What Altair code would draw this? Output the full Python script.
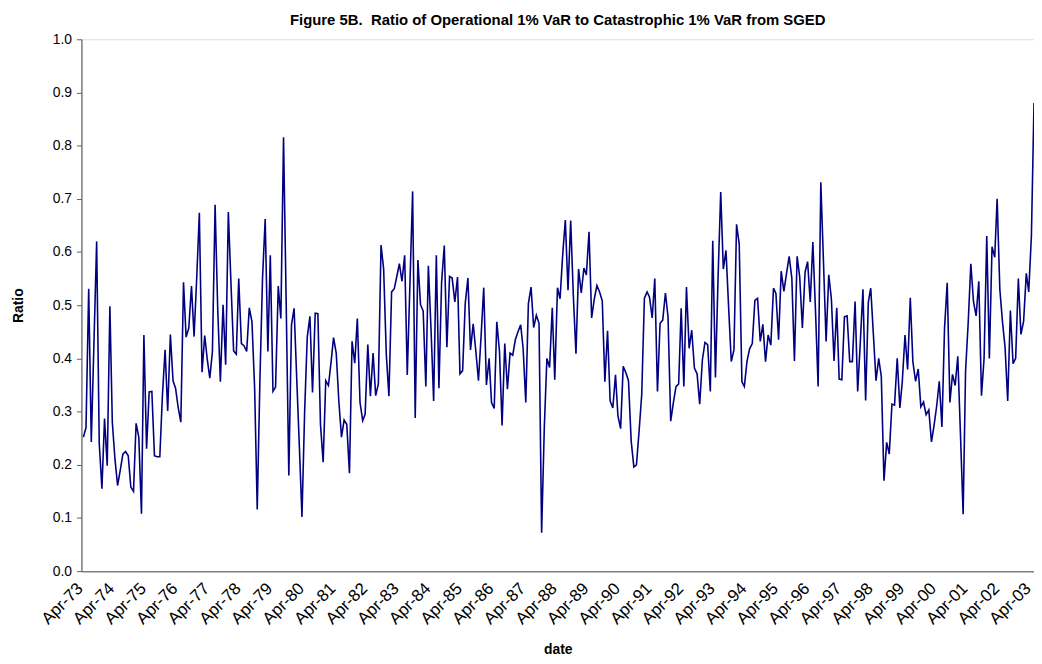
import altair as alt
import pandas as pd

# Monthly ratio values, Apr-1973 .. May-2003
ratio_1973_1979 = [
    0.252, 0.27, 0.531, 0.243, 0.43, 0.62, 0.24, 0.155, 0.287, 0.198, 0.498, 0.28,
    0.21, 0.161, 0.19, 0.22, 0.225, 0.217, 0.158, 0.15, 0.278, 0.252, 0.108, 0.444,
    0.23, 0.337, 0.338, 0.217, 0.215, 0.215, 0.33, 0.416, 0.301, 0.445, 0.358, 0.344,
    0.307, 0.28, 0.543, 0.44, 0.457, 0.536, 0.441, 0.553, 0.674, 0.374, 0.443, 0.4,
    0.363, 0.413, 0.689, 0.494, 0.356, 0.501, 0.388, 0.675, 0.543, 0.414, 0.408, 0.55,
    0.428, 0.424, 0.413, 0.495, 0.469, 0.344, 0.116, 0.36, 0.55, 0.662, 0.413, 0.594,
    0.338, 0.346, 0.536, 0.475, 0.816, 0.5, 0.18, 0.463, 0.494, 0.36, 0.23, 0.102,
]
ratio_1980_1989 = [
    0.30, 0.44, 0.479, 0.336, 0.485, 0.484, 0.276, 0.205, 0.358, 0.349, 0.394, 0.439,
    0.41, 0.32, 0.252, 0.284, 0.276, 0.184, 0.432, 0.391, 0.475, 0.317, 0.283, 0.295,
    0.426, 0.329, 0.41, 0.33, 0.352, 0.613, 0.568, 0.407, 0.329, 0.525, 0.531, 0.553,
    0.578, 0.545, 0.594, 0.369, 0.54, 0.714, 0.288, 0.585, 0.501, 0.489, 0.347, 0.574,
    0.454, 0.32, 0.594, 0.344, 0.543, 0.612, 0.421, 0.554, 0.551, 0.506, 0.553, 0.371,
    0.377, 0.503, 0.551, 0.416, 0.465, 0.413, 0.358, 0.444, 0.533, 0.35, 0.4, 0.317,
    0.306, 0.469, 0.413, 0.274, 0.428, 0.342, 0.41, 0.406, 0.435, 0.45, 0.463, 0.419,
    0.317, 0.503, 0.534, 0.458, 0.481, 0.466, 0.072, 0.27, 0.4, 0.383, 0.495, 0.36,
    0.533, 0.512, 0.596, 0.66, 0.528, 0.659, 0.52, 0.409, 0.568, 0.523, 0.57, 0.557,
    0.638, 0.476, 0.512, 0.537, 0.525, 0.508, 0.356, 0.452, 0.32, 0.307, 0.369, 0.292,
]
ratio_1990_1999 = [
    0.268, 0.385, 0.373, 0.358, 0.245, 0.196, 0.2, 0.264, 0.332, 0.513, 0.525, 0.515,
    0.476, 0.55, 0.338, 0.466, 0.472, 0.523, 0.478, 0.282, 0.316, 0.347, 0.352, 0.494,
    0.347, 0.534, 0.419, 0.453, 0.382, 0.371, 0.314, 0.397, 0.43, 0.426, 0.338, 0.621,
    0.364, 0.55, 0.713, 0.568, 0.603, 0.494, 0.394, 0.416, 0.652, 0.615, 0.356, 0.347,
    0.395, 0.418, 0.428, 0.509, 0.513, 0.432, 0.464, 0.394, 0.444, 0.425, 0.532, 0.522,
    0.435, 0.564, 0.526, 0.559, 0.592, 0.551, 0.395, 0.592, 0.553, 0.457, 0.562, 0.582,
    0.506, 0.619, 0.487, 0.347, 0.731, 0.58, 0.432, 0.557, 0.512, 0.395, 0.495, 0.361,
    0.36, 0.478, 0.48, 0.394, 0.394, 0.507, 0.338, 0.432, 0.53, 0.321, 0.506, 0.532,
    0.444, 0.358, 0.4, 0.366, 0.17, 0.242, 0.22, 0.314, 0.312, 0.4, 0.307, 0.357,
    0.444, 0.379, 0.514, 0.394, 0.357, 0.38, 0.309, 0.318, 0.294, 0.303, 0.243, 0.273,
]
ratio_2000_2003 = [
    0.31, 0.357, 0.271, 0.457, 0.542, 0.317, 0.37, 0.349, 0.404, 0.258, 0.107, 0.376,
    0.469, 0.578, 0.506, 0.48, 0.545, 0.33, 0.4, 0.63, 0.4, 0.61, 0.59, 0.7,
    0.53, 0.47, 0.42, 0.32, 0.49, 0.39, 0.4, 0.55, 0.445, 0.47, 0.56, 0.525,
    0.63, 0.88,
]
ratio = ratio_1973_1979 + ratio_1980_1989 + ratio_1990_1999 + ratio_2000_2003

start_year, start_month = 1973, 4
dates = []
for i in range(len(ratio)):
    k = start_month - 1 + i
    dates.append(f"{start_year + k // 12:04d}-{k % 12 + 1:02d}-01T00:00:00")

tick_years = list(range(1973, 2004))  # labels "Apr-73" .. "Apr-03"

df = pd.DataFrame({"date": dates, "Ratio": ratio})

FONT = "Liberation Sans"

line = alt.Chart(df).mark_line(color="#000080", strokeWidth=1.6, clip=True).encode(
    x=alt.X(
        "date:T",
        title="date",
        scale=alt.Scale(
            domain=[
                alt.DateTime(year=1973, month=3, date=9),
                alt.DateTime(year=2003, month=5, date=1),
            ]
        ),
        axis=alt.Axis(
            values=[alt.DateTime(year=y, month=4, date=1) for y in tick_years],
            format="%b-%y",
            labelAngle=-45,
            labelAlign="right",
            labelBaseline="alphabetic",
            labelPadding=18,
            labelOffset=0,
            labelFlush=False,
            labelOverlap=False,
            labelBound=False,
            ticks=False,
            grid=False,
            domainColor="#808080",
            domainWidth=1.5,
            labelFont=FONT,
            labelFontSize=17,
            labelColor="#000000",
            titleFont=FONT,
            titleFontSize=14,
            titleFontWeight="bold",
            titleColor="#000000",
            titleBaseline="alphabetic",
            titleY=83,
        ),
    ),
    y=alt.Y(
        "Ratio:Q",
        title="Ratio",
        scale=alt.Scale(domain=[0, 1], nice=False, zero=True),
        axis=alt.Axis(
            values=[0, 0.1, 0.2, 0.3, 0.4, 0.5, 0.6, 0.7, 0.8, 0.9, 1.0],
            format=".1f",
            grid=False,
            tickSize=5,
            tickColor="#606060",
            domainColor="#606060",
            domainWidth=1.2,
            labelPadding=5,
            labelFlush=False,
            labelFont=FONT,
            labelFontSize=14,
            labelColor="#000000",
            titleFont=FONT,
            titleFontSize=14,
            titleFontWeight="bold",
            titleColor="#000000",
            titlePadding=27,
        ),
    ),
)

chart = line.properties(
    width=960,
    height=536,
    title=alt.TitleParams(
        "Figure 5B.\u00a0 Ratio of Operational 1% VaR to Catastrophic 1% VaR from SGED",
        font=FONT,
        fontSize=15,
        fontWeight="bold",
        color="#000000",
        anchor="middle",
        offset=4,
    ),
    padding={"left": 74, "top": 29, "right": 0, "bottom": 83},
    autosize=alt.AutoSizeParams(type="none"),
).configure_view(stroke=None).configure(background="#ffffff")

chart.save("out.html", embed_options={"renderer": "svg", "actions": False})
